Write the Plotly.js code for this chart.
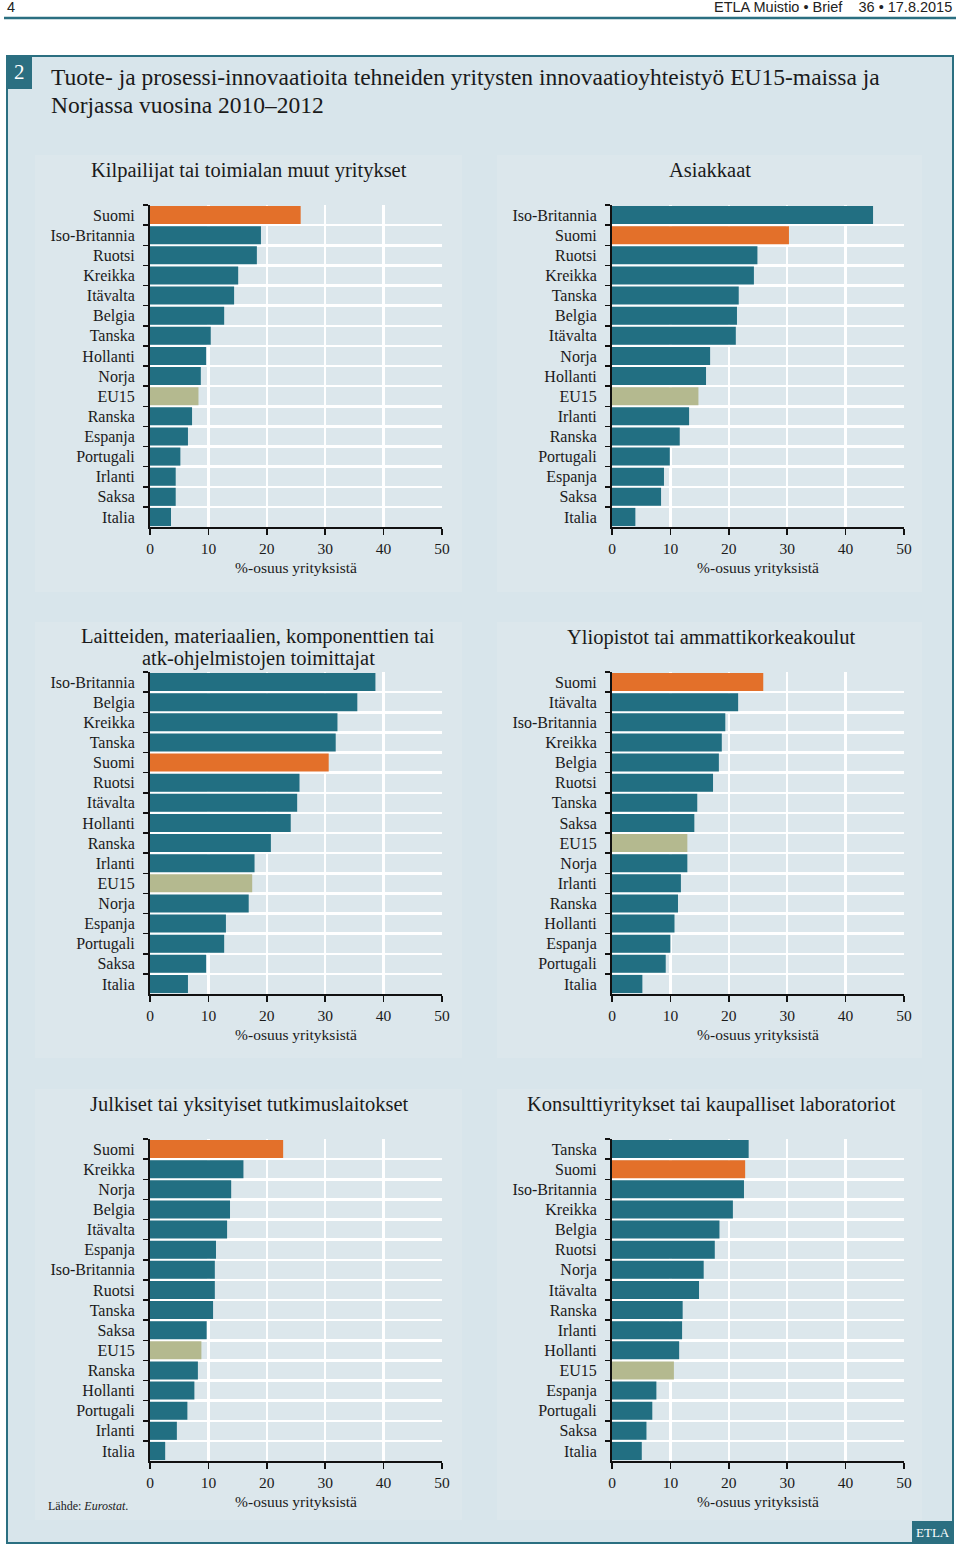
<!DOCTYPE html>
<html>
<head>
<meta charset="utf-8">
<script src="https://cdn.plot.ly/plotly-3.0.1.min.js"></script>
<style>
  html, body { margin: 0; padding: 0; background: #ffffff; }
  #chart { width: 960px; height: 1545px; }
</style>
</head>
<body>
<div id="chart"></div>
<script>
// ---------- DATA ----------
const panelTitles = [
  ["Kilpailijat tai toimialan muut yritykset"],
  ["Asiakkaat"],
  ["Laitteiden, materiaalien, komponenttien tai", "atk-ohjelmistojen toimittajat"],
  ["Yliopistot tai ammattikorkeakoulut"],
  ["Julkiset tai yksityiset tutkimuslaitokset"],
  ["Konsulttiyritykset tai kaupalliset laboratoriot"]
];

const countries1 = ["Suomi","Iso-Britannia","Ruotsi","Kreikka","Itävalta","Belgia","Tanska","Hollanti","Norja","EU15","Ranska","Espanja","Portugali","Irlanti","Saksa","Italia"];
const values1    = [25.8, 19.0, 18.3, 15.1, 14.4, 12.7, 10.4, 9.6, 8.7, 8.3, 7.2, 6.5, 5.2, 4.4, 4.4, 3.6];

const countries2 = ["Iso-Britannia","Suomi","Ruotsi","Kreikka","Tanska","Belgia","Itävalta","Norja","Hollanti","EU15","Irlanti","Ranska","Portugali","Espanja","Saksa","Italia"];
const values2    = [44.7, 30.3, 24.9, 24.3, 21.7, 21.4, 21.2, 16.8, 16.1, 14.8, 13.2, 11.6, 9.9, 8.9, 8.4, 4.0];

const countries3 = ["Iso-Britannia","Belgia","Kreikka","Tanska","Suomi","Ruotsi","Itävalta","Hollanti","Ranska","Irlanti","EU15","Norja","Espanja","Portugali","Saksa","Italia"];
const values3    = [38.6, 35.5, 32.1, 31.8, 30.6, 25.6, 25.2, 24.1, 20.7, 17.9, 17.5, 16.9, 13.0, 12.7, 9.6, 6.5];

const countries4 = ["Suomi","Itävalta","Iso-Britannia","Kreikka","Belgia","Ruotsi","Tanska","Saksa","EU15","Norja","Irlanti","Ranska","Hollanti","Espanja","Portugali","Italia"];
const values4    = [25.9, 21.6, 19.4, 18.8, 18.3, 17.3, 14.6, 14.1, 12.9, 12.9, 11.8, 11.3, 10.7, 10.0, 9.2, 5.2];

const countries5 = ["Suomi","Kreikka","Norja","Belgia","Itävalta","Espanja","Iso-Britannia","Ruotsi","Tanska","Saksa","EU15","Ranska","Hollanti","Portugali","Irlanti","Italia"];
const values5    = [22.8, 16.0, 13.9, 13.7, 13.2, 11.3, 11.1, 11.1, 10.8, 9.7, 8.8, 8.2, 7.6, 6.4, 4.6, 2.6];

const countries6 = ["Tanska","Suomi","Iso-Britannia","Kreikka","Belgia","Ruotsi","Norja","Itävalta","Ranska","Irlanti","Hollanti","EU15","Espanja","Portugali","Saksa","Italia"];
const values6    = [23.4, 22.8, 22.6, 20.7, 18.4, 17.6, 15.7, 14.9, 12.1, 12.0, 11.5, 10.6, 7.6, 6.9, 5.9, 5.1];

const xTickVals = [0, 10, 20, 30, 40, 50];
const xAxisTitle = "%-osuus yrityksistä";

// ---------- STYLE ----------
const W = 960, H = 1545;
const SERIF = "Liberation Serif, Times New Roman, serif";
const SANS = "Liberation Sans Narrow, Liberation Sans, Arial Narrow, sans-serif";
const TEAL = "#226f82";
const ORANGE = "#e3702a";
const KHAKI = "#b4b98f";
const FRAME = "#2b6f81";
const BOXBG = "#d8e5eb";
const PANELBG = "#dce7ec";
const PLOTBG = "#dfe8ed";

function colorFor(name) {
  if (name === "Suomi") return ORANGE;
  if (name === "EU15") return KHAKI;
  return TEAL;
}
const px = x => x / W;
const py = y => 1 - y / H;

const panels = [
  {c: countries1, v: values1},
  {c: countries2, v: values2},
  {c: countries3, v: values3},
  {c: countries4, v: values4},
  {c: countries5, v: values5},
  {c: countries6, v: values6}
];

const colX = [[150, 442], [612, 904]];
const rowY = [[205, 527], [672, 994], [1139, 1461]];

const data = [];
const layout = {
  width: W, height: H,
  margin: {l: 0, r: 0, t: 0, b: 0},
  paper_bgcolor: "#ffffff",
  plot_bgcolor: PLOTBG,
  showlegend: false,
  bargap: 0.1,
  font: {family: SERIF, color: "#1a1a1a", size: 15},
  shapes: [],
  annotations: []
};

layout.shapes.push({type: "line", xref: "paper", yref: "paper", x0: px(4), x1: px(956), y0: py(18), y1: py(18), line: {color: FRAME, width: 2.5}, layer: "below"});
layout.shapes.push({type: "rect", xref: "paper", yref: "paper", x0: px(7), x1: px(953), y0: py(1543), y1: py(56), fillcolor: BOXBG, line: {color: FRAME, width: 2}, layer: "below"});
const panelBoxes = [
  [35, 462, 155, 592], [497, 922, 155, 592],
  [35, 462, 622, 1058], [497, 922, 622, 1058],
  [35, 462, 1089, 1520], [497, 922, 1089, 1520]
];
panelBoxes.forEach(b => {
  layout.shapes.push({type: "rect", xref: "paper", yref: "paper", x0: px(b[0]), x1: px(b[1]), y0: py(b[3]), y1: py(b[2]), fillcolor: PANELBG, line: {width: 0}, layer: "below"});
});
layout.shapes.push({type: "rect", xref: "paper", yref: "paper", x0: px(7), x1: px(32), y0: py(89), y1: py(56), fillcolor: FRAME, line: {width: 0}, layer: "above"});
layout.shapes.push({type: "rect", xref: "paper", yref: "paper", x0: px(912), x1: px(953), y0: py(1543), y1: py(1521), fillcolor: FRAME, line: {width: 0}, layer: "above"});

panels.forEach((p, i) => {
  const col = i % 2, row = Math.floor(i / 2);
  const n = i + 1;
  const xa = n === 1 ? "x" : "x" + n;
  const ya = n === 1 ? "y" : "y" + n;
  const xk = n === 1 ? "xaxis" : "xaxis" + n;
  const yk = n === 1 ? "yaxis" : "yaxis" + n;
  data.push({
    type: "bar", orientation: "h",
    x: p.v, y: p.c, xaxis: xa, yaxis: ya,
    marker: {color: p.c.map(colorFor), line: {width: 0}},
    hoverinfo: "x+y"
  });
  layout[xk] = {
    domain: [px(colX[col][0]), px(colX[col][1])],
    anchor: ya,
    range: [0, 50], tickvals: xTickVals, ticktext: xTickVals.map(String),
    showgrid: true, gridcolor: "#ffffff", gridwidth: 2.5,
    zeroline: false,
    showline: true, linecolor: "#111111", linewidth: 2,
    ticks: "outside", ticklen: 6, tickwidth: 1.5, tickcolor: "#111111",
    tickfont: {family: SERIF, size: 15.5, color: "#1a1a1a"},
    title: {text: xAxisTitle, font: {family: SERIF, size: 15.5, color: "#1a1a1a"}, standoff: 7},
    fixedrange: true
  };
  layout[yk] = {
    domain: [py(rowY[row][1]), py(rowY[row][0])],
    anchor: xa,
    type: "category",
    categoryorder: "array", categoryarray: p.c,
    autorange: "reversed",
    tickson: "boundaries",
    showgrid: true, gridcolor: "#ffffff", gridwidth: 2.5,
    showline: true, linecolor: "#111111", linewidth: 2,
    ticks: "outside", ticklen: 5, tickwidth: 1.5, tickcolor: "#111111",
    ticklabelstandoff: 10,
    tickfont: {family: SERIF, size: 16, color: "#1a1a1a"},
    fixedrange: true
  };
});

// panel titles (one annotation per line)
const titlePos = [
  [249, [170]], [710, [170]],
  [258, [636, 658]], [711, [637]],
  [249, [1104]], [711, [1104]]
];
panelTitles.forEach((lines, i) => {
  lines.forEach((t, k) => {
    layout.annotations.push({
      text: t, xref: "paper", yref: "paper",
      x: px(titlePos[i][0]), y: py(titlePos[i][1][k]),
      xanchor: "center", yanchor: "middle", showarrow: false,
      font: {family: SERIF, size: 20.5, color: "#1a1a1a"}
    });
  });
});

layout.annotations.push(
  {text: "4", xref: "paper", yref: "paper", x: px(5), y: py(7), xanchor: "left", yanchor: "middle", showarrow: false, font: {family: SANS, size: 14.5, color: "#222"}},
  {text: "ETLA Muistio • Brief&nbsp;&nbsp;&nbsp;&nbsp;36 • 17.8.2015", xref: "paper", yref: "paper", x: px(954), y: py(7), xanchor: "right", yanchor: "middle", showarrow: false, font: {family: SANS, size: 14.5, color: "#222"}},
  {text: "2", xref: "paper", yref: "paper", x: px(19.5), y: py(72), xanchor: "center", yanchor: "middle", showarrow: false, font: {family: SERIF, size: 21, color: "#ffffff"}},
  {text: "Tuote- ja prosessi-innovaatioita tehneiden yritysten innovaatioyhteistyö EU15-maissa ja", xref: "paper", yref: "paper", x: px(49), y: py(77), xanchor: "left", yanchor: "middle", showarrow: false, font: {family: SERIF, size: 23.5, color: "#1a1a1a"}},
  {text: "Norjassa vuosina 2010–2012", xref: "paper", yref: "paper", x: px(49), y: py(105), xanchor: "left", yanchor: "middle", showarrow: false, font: {family: SERIF, size: 23.5, color: "#1a1a1a"}},
  {text: "Lähde: <i>Eurostat</i>.", xref: "paper", yref: "paper", x: px(46), y: py(1506), xanchor: "left", yanchor: "middle", showarrow: false, font: {family: SERIF, size: 12, color: "#1a1a1a"}},
  {text: "ETLA", xref: "paper", yref: "paper", x: px(932.5), y: py(1532), xanchor: "center", yanchor: "middle", showarrow: false, font: {family: SERIF, size: 13, color: "#ffffff"}}
);

Plotly.newPlot("chart", data, layout, {displayModeBar: false, staticPlot: true});
</script>
</body>
</html>
